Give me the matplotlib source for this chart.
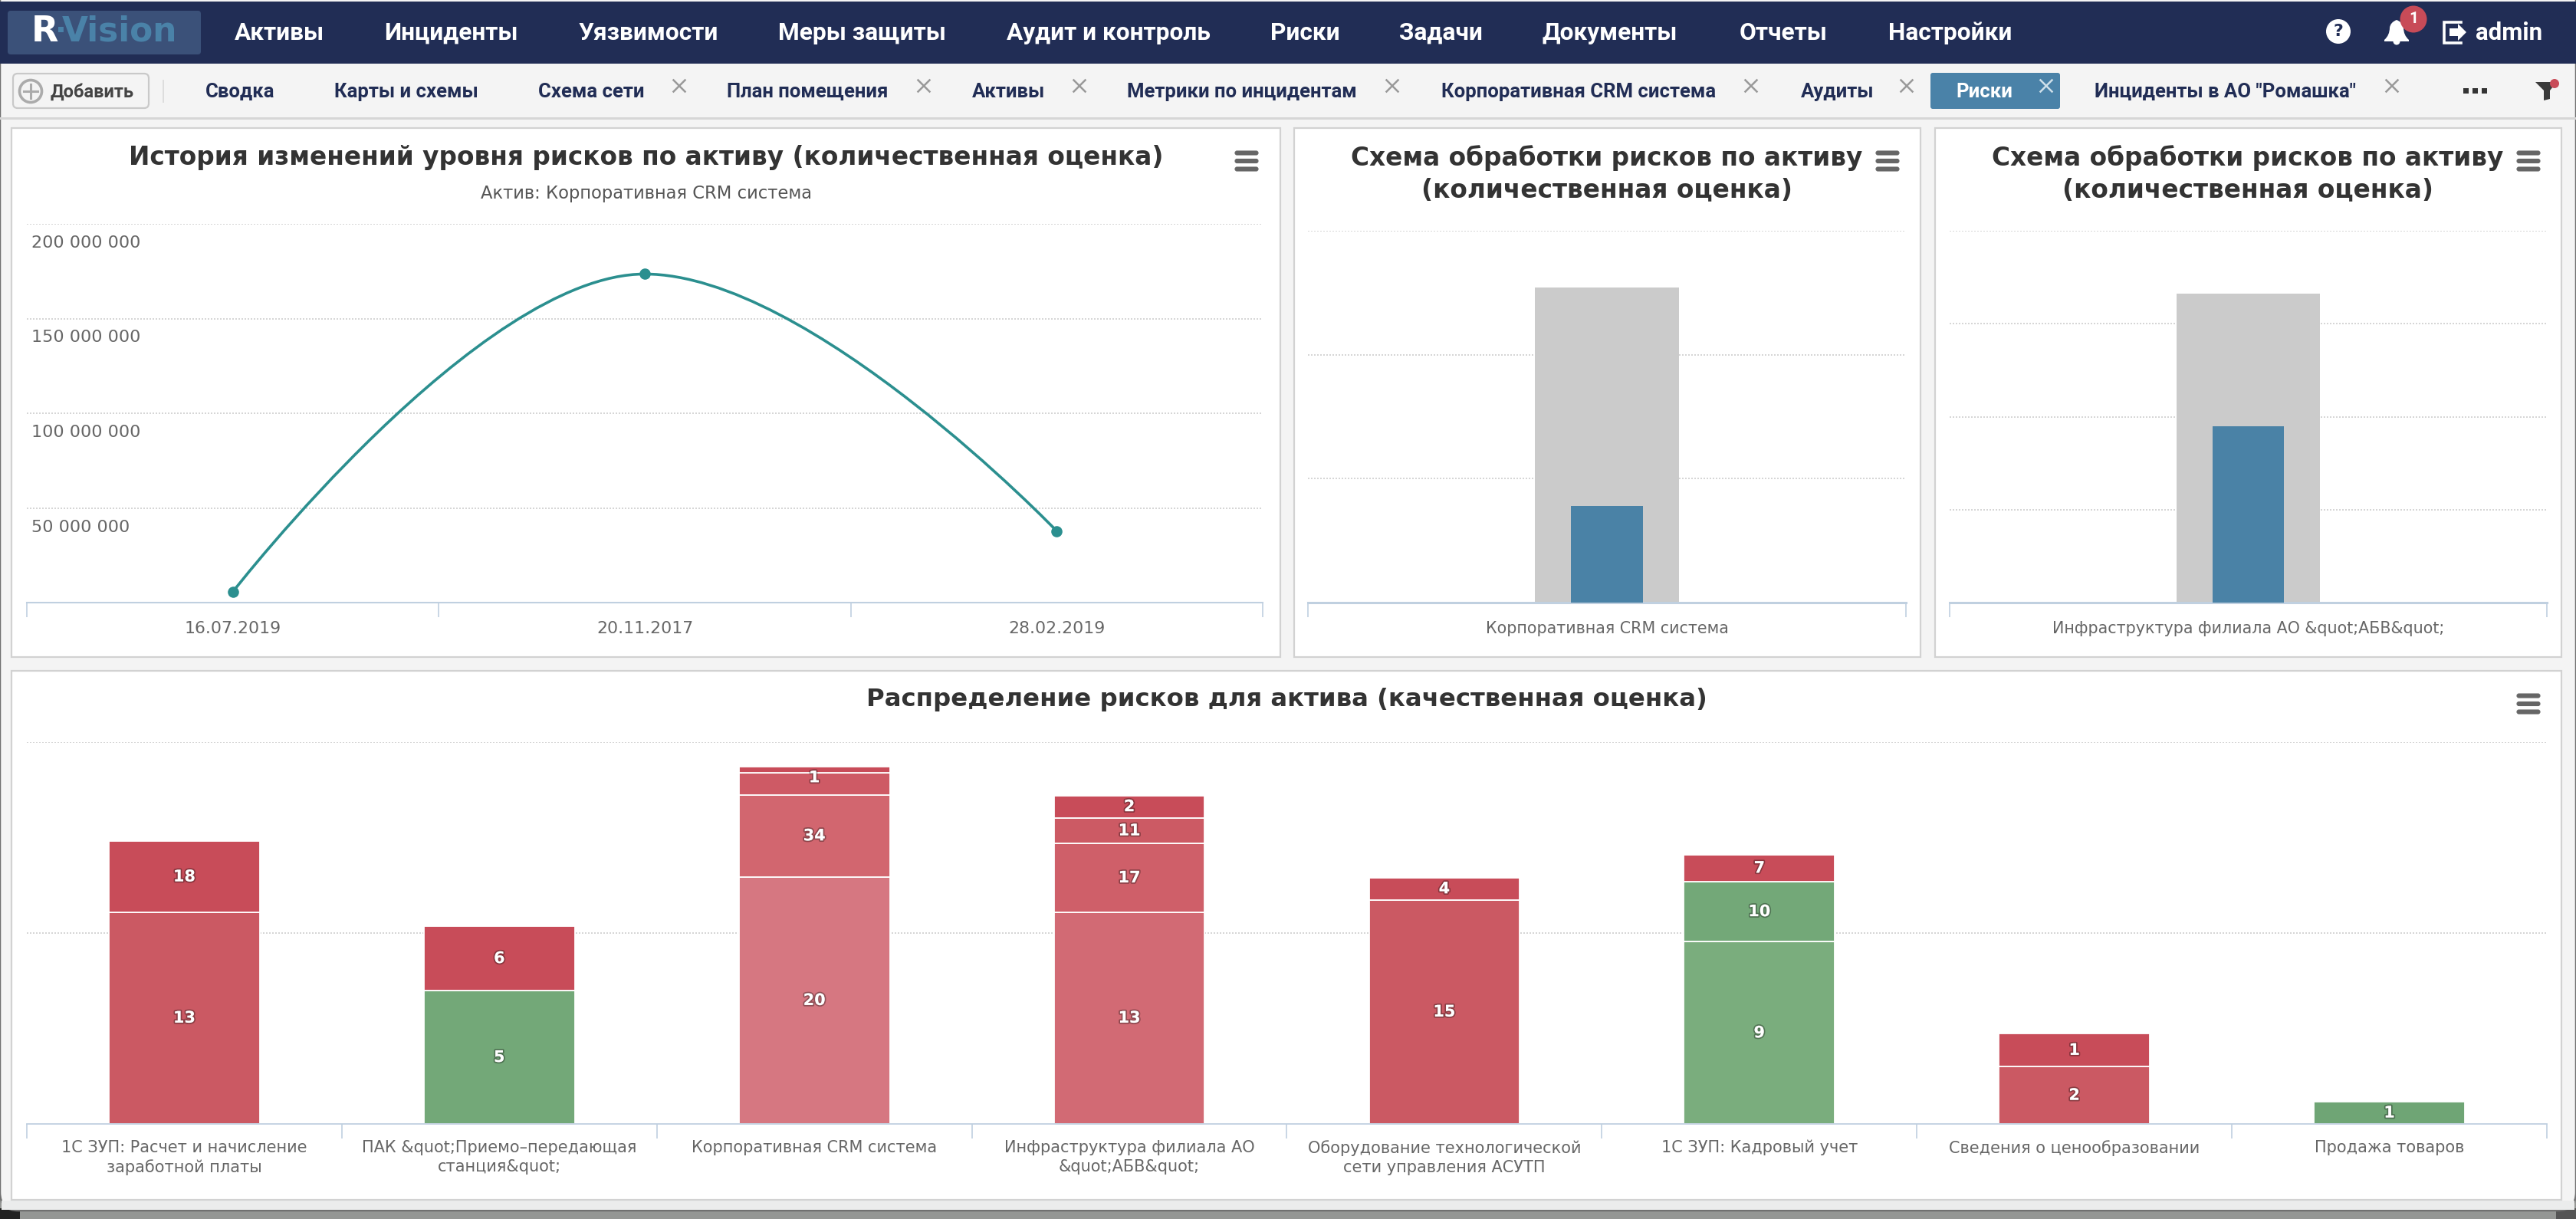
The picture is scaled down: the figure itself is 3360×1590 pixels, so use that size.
import matplotlib
matplotlib.use("Agg")
import matplotlib.pyplot as plt
import matplotlib.patheffects as pe
from matplotlib.patches import Rectangle, FancyBboxPatch, Circle, Polygon, PathPatch
from matplotlib.path import Path
from matplotlib.transforms import ScaledTranslation

W, H = 3360, 1590
plt.rcParams['font.family'] = ['DejaVu Sans']

# --- data ---
nav_items = ["Активы", "Инциденты", "Уязвимости", "Меры защиты", "Аудит и контроль",
             "Риски", "Задачи", "Документы", "Отчеты", "Настройки"]
tab_items = ["Сводка", "Карты и схемы", "Схема сети", "План помещения", "Активы",
             "Метрики по инцидентам", "Корпоративная CRM система", "Аудиты", "Риски",
             'Инциденты в АО "Ромашка"']

history_dates = ["16.07.2019", "20.11.2017", "28.02.2019"]
history_values = [5.7e6, 173.5e6, 37.8e6]
history_ticks = [50e6, 100e6, 150e6, 200e6]
history_ticklabels = ["50 000 000", "100 000 000", "150 000 000", "200 000 000"]

scheme1_name = ["Корпоративная CRM система"]
scheme1_total = [2.54]
scheme1_treated = [0.78]
scheme2_name = ['Инфраструктура филиала АО &quot;АБВ&quot;']
scheme2_total = [3.32]
scheme2_treated = [1.90]

assets = ["1С ЗУП: Расчет и начисление\nзаработной платы",
          "ПАК &quot;Приемо–передающая\nстанция&quot;",
          "Корпоративная CRM система",
          "Инфраструктура филиала АО\n&quot;АБВ&quot;",
          "Оборудование технологической\nсети управления АСУТП",
          "1С ЗУП: Кадровый учет",
          "Сведения о ценообразовании",
          "Продажа товаров"]
# segment heights bottom to top, the printed labels are not proportional to them
seg_heights = [[55.5, 18.5], [34.9, 16.9], [64.7, 21.5, 5.8, 1.5], [55.5, 17.9, 6.8, 5.8],
               [58.7, 5.8], [47.7, 15.8, 7.0], [15.0, 8.6], [5.8]]
seg_labels = [["13", "18"], ["5", "6"], ["20", "34", "1", None], ["13", "17", "11", "2"],
              ["15", "4"], ["9", "10", "7"], ["2", "1"], ["1"]]
seg_colors = [["#CB5963", "#C84C59"], ["#73A878", "#C84C59"],
              ["#D67781", "#D2666F", "#CE5A65", "#C84C59"],
              ["#D26A74", "#CF5F69", "#CC5A64", "#C84C59"],
              ["#CB5963", "#C84C59"], ["#7AAD7D", "#73A878", "#C84C59"],
              ["#CB5963", "#C84C59"], ["#6FA575"]]

NAVY = "#212D55"
AXIS = "#C0D0E0"
GRID = "#D6D6D6"
TITLE = "#333333"
LABEL = "#666666"
BLUE = "#4A82A8"
ROBOTO = ["Roboto", "DejaVu Sans"]


def px_axes(x0, x1, ytop, ybot):
    ax = fig.add_axes([x0 / W, 1 - ybot / H, (x1 - x0) / W, (ybot - ytop) / H])
    ax.patch.set_alpha(0)
    for s in ["top", "left", "right"]:
        ax.spines[s].set_visible(False)
    ax.spines["bottom"].set_color(AXIS)
    ax.set_axisbelow(True)
    ax.yaxis.grid(True, color=GRID, lw=1.44, ls=(0, (1, 1)))
    ax.tick_params(axis="y", length=0)
    ax.tick_params(axis="x", which="major", length=0, labelcolor=LABEL)
    ax.tick_params(axis="x", which="minor", length=13.7, width=1.2, color=AXIS)
    return ax


def T(x, y, s, size, color, weight="normal", ha="left", family=None):
    return bg.text(x, y, s, fontsize=size, color=color, fontweight=weight, ha=ha, va="center",
                   family=family or ['DejaVu Sans'])


def hamburger(x, y):
    for dy in (-10.5, 0, 10.5):
        bg.add_patch(FancyBboxPatch((x - 15, y + dy - 2.5), 30, 5, boxstyle="round,pad=0,rounding_size=2.5",
                                    fc="#666666", ec="#666666", lw=0.8))


def close_mark(x, y, c="#999999"):
    bg.plot([x - 7.5, x + 7.5], [y - 7.5, y + 7.5], color=c, lw=1.8)
    bg.plot([x - 7.5, x + 7.5], [y + 7.5, y - 7.5], color=c, lw=1.8)


fig = plt.figure(figsize=(W / 100, H / 100), dpi=100, facecolor="#949694")
bg = fig.add_axes([0, 0, 1, 1])
bg.set_xlim(0, W)
bg.set_ylim(H, 0)
bg.axis("off")

# window, header, toolbar
bg.add_patch(Rectangle((0, 1576), 26, 14, fc="#222222", ec="none"))
bg.add_patch(Rectangle((3334, 1576), 26, 14, fc="#555555", ec="none"))
bg.add_patch(Rectangle((26, 1578), 3308, 12, fc="#949694", ec="none"))
bg.add_patch(Rectangle((0, 0), W, 3, fc="#CFCFCF", ec="none"))
bg.add_patch(FancyBboxPatch((0, -30), W, 1609, boxstyle="round,pad=0,rounding_size=24",
                            fc="#F4F4F4", ec="#707070", lw=1.8))
bg.add_patch(Rectangle((2, 1566), W - 4, 12, fc="#EBECEC", ec="none"))
bg.add_patch(Rectangle((0, 2), W, 81, fc=NAVY, ec="none"))
bg.add_patch(Rectangle((0, 153), W, 2.5, fc="#D6D6D6", ec="none"))

bg.add_patch(FancyBboxPatch((10, 14), 252, 57, boxstyle="round,pad=0,rounding_size=4", fc="#3B5179", ec="none"))
T(41, 41, "R", 33, "white", "bold")
T(72, 41, "·", 28, BLUE, "bold")
T(81, 41, "Vision", 31.6, BLUE, "bold")

nav_x = [306, 501, 755, 1015, 1313, 1657, 1825, 2012, 2269, 2463]
for x, s in zip(nav_x, nav_items):
    T(x, 43, s, 22.8, "white", "bold", family=ROBOTO)

# help, bell, logout, user
bg.add_patch(Circle((3050, 41), 16, fc="white", ec="none"))
T(3050, 41, "?", 16, NAVY, "bold", ha="center")
bell = Path([(3110, 52), (3117, 46), (3117, 36), (3118, 29), (3126, 26), (3134, 29), (3135, 36), (3135, 46),
             (3142, 52), (3142, 54), (3110, 54), (3110, 52)],
            [Path.MOVETO, Path.CURVE3, Path.CURVE3, Path.CURVE3, Path.CURVE3, Path.CURVE3, Path.CURVE3,
             Path.CURVE3, Path.CURVE3, Path.LINETO, Path.LINETO, Path.CLOSEPOLY])
bg.add_patch(PathPatch(bell, fc="white", ec="none"))
bg.add_patch(Circle((3126, 54), 4.5, fc="white", ec="none"))
bg.add_patch(Circle((3148, 25), 17.5, fc="#C84B58", ec="none"))
T(3148, 25, "1", 15, "white", "bold", ha="center", family=ROBOTO)
bg.plot([3210, 3188, 3188, 3210], [29, 29, 56, 56], color="white", lw=2.6, solid_joinstyle="miter")
bg.add_patch(Polygon([(3195, 37), (3206, 37), (3206, 31), (3217, 42), (3206, 53), (3206, 47), (3195, 47)],
                     closed=True, fc="white", ec="none"))
T(3229, 43, "admin", 22.5, "white", "bold", family=ROBOTO)

# tab strip
bg.add_patch(FancyBboxPatch((17, 96), 177, 45, boxstyle="round,pad=0,rounding_size=6", fc="#F4F4F4", ec="#C9C9C9", lw=1.6))
bg.add_patch(Circle((40, 119), 14.5, fc="none", ec="#ABABAB", lw=2.6))
bg.plot([31, 49], [119, 119], color="#ABABAB", lw=2.2)
bg.plot([40, 40], [110, 128], color="#ABABAB", lw=2.2)
T(66, 120, "Добавить", 17, "#444444", "bold", family=ROBOTO)
bg.plot([213, 213], [105, 133], color="#DDDDDD", lw=1.4)
bg.add_patch(FancyBboxPatch((2518, 95), 169, 47, boxstyle="round,pad=0,rounding_size=3", fc=BLUE, ec="none"))
tab_x = [268, 436, 702, 948, 1268, 1470, 1880, 2349, 2551, 2732]
for x, s in zip(tab_x, tab_items):
    T(x, 120, s, 18.5, "white" if s == "Риски" else NAVY, "bold", family=ROBOTO)
for x in [886, 1205, 1408, 1816, 2284, 2487, 3120]:
    close_mark(x, 112)
close_mark(2669, 112, "#CFE0EA")
for x in (3216, 3228, 3240):
    bg.add_patch(Rectangle((x - 3.5, 115), 7, 7, fc="#333333", ec="none"))
bg.add_patch(Polygon([(3307, 107), (3335, 107), (3326, 118), (3326, 129), (3318, 131), (3318, 118)],
                     closed=True, fc="#3A3A3A", ec="none"))
bg.add_patch(Circle((3332, 109), 6, fc="#C84B58", ec="none"))

# panels
for x0, x1, y0, y1 in [(15, 1670, 167, 857), (1688, 2505, 167, 857), (2524, 3341, 167, 857), (15, 3341, 875, 1565)]:
    bg.add_patch(Rectangle((x0, y0), x1 - x0, y1 - y0, fc="white", ec="#D2D2D2", lw=1.6))

T(843, 206, "История изменений уровня рисков по активу (количественная оценка)", 23.6, TITLE, "bold", ha="center")
T(843, 252, "Актив: Корпоративная CRM система", 16.3, "#555555", ha="center")
T(2096, 206, "Схема обработки рисков по активу", 23.6, TITLE, "bold", ha="center")
T(2096, 248, "(количественная оценка)", 23.6, TITLE, "bold", ha="center")
T(2932, 206, "Схема обработки рисков по активу", 23.6, TITLE, "bold", ha="center")
T(2932, 248, "(количественная оценка)", 23.6, TITLE, "bold", ha="center")
T(1678, 913, "Распределение рисков для актива (качественная оценка)", 23.3, TITLE, "bold", ha="center")
for x, y in [(1626, 210), (2462, 210), (3298, 210), (3298, 918)]:
    hamburger(x, y)

# history line, same bezier construction as the original spline
ax = px_axes(35, 1647, 292, 786)
xs = list(range(len(history_values)))
ax.set_xlim(-0.5, 2.5)
ax.set_ylim(0, 200e6)
ax.set_yticks(history_ticks)
ax.set_yticklabels(history_ticklabels, ha="left", color=LABEL, fontsize=16)
ax.tick_params(axis="y", pad=-4)
shift = ScaledTranslation(0, -23 / 100, fig.dpi_scale_trans)
for lab in ax.get_yticklabels():
    lab.set_transform(lab.get_transform() + shift)
ax.set_xticks(xs)
ax.set_xticklabels(history_dates, fontsize=15.8)
ax.set_xticks([-0.5, 0.5, 1.5, 2.5], minor=True)
ax.tick_params(axis="x", which="major", pad=17)
ax.spines["bottom"].set_linewidth(1.5)

verts = [(xs[0], history_values[0])]
codes = [Path.MOVETO]
for i in range(1, len(xs)):
    prev_ctrl = (xs[i - 1] + (xs[i] - xs[i - 1]) * 0.4, history_values[i - 1]) if i > 1 else (xs[0], history_values[0])
    ctrl = (xs[i] - (xs[i] - xs[i - 1]) * 0.4, history_values[i]) if i < len(xs) - 1 else (xs[i], history_values[i])
    verts += [prev_ctrl, ctrl, (xs[i], history_values[i])]
    codes += [Path.CURVE4] * 3
ax.add_patch(PathPatch(Path(verts, codes), fc="none", ec="#2B8F8F", lw=2.6, clip_on=False))
ax.plot(xs, history_values, "o", color="#2B8F8F", ms=10.5, mew=0, clip_on=False, zorder=5)

# scheme panels
for rect, name, total, treated, top in [((1706, 2486), scheme1_name, scheme1_total, scheme1_treated, 3),
                                        ((2543, 3322), scheme2_name, scheme2_total, scheme2_treated, 4)]:
    ax = px_axes(rect[0], rect[1], 301, 786)
    ax.set_xlim(-0.5, 0.5)
    ax.set_ylim(0, top)
    ax.set_yticks(range(1, top + 1))
    ax.set_yticklabels([])
    ax.bar([0], total, width=0.24, color="#CBCBCB", zorder=2)
    ax.bar([0], treated, width=0.12, color="#4A82A6", zorder=3)
    ax.set_xticks([0])
    ax.set_xticklabels(name, fontsize=14.9)
    ax.set_xticks([-0.5, 0.5], minor=True)
    ax.tick_params(axis="x", which="major", pad=17)
    ax.spines["bottom"].set_linewidth(2.2)

# stacked assets
ax = px_axes(35, 3322, 968, 1466)
ax.set_xlim(-0.5, len(assets) - 0.5)
ax.set_ylim(0, 100)
ax.set_yticks([50, 100])
ax.set_yticklabels([])
for i, (hs, labs, cols) in enumerate(zip(seg_heights, seg_labels, seg_colors)):
    bottom = 0
    for j, (h, lab, c) in enumerate(zip(hs, labs, cols)):
        ax.bar(i, h, bottom=bottom, width=0.479, color=c, edgecolor="white", linewidth=1.3, zorder=2)
        if lab:
            # the "1" on the third bar sits above its segment centre in the reference
            nudge = 1.6 if (i, j) == (2, 2) else 0
            ax.text(i, bottom + h / 2 + nudge, lab, color="white", fontsize=15, fontweight="bold",
                    ha="center", va="center", zorder=4,
                    path_effects=[pe.withStroke(linewidth=2.6, foreground="#00000050")])
        bottom += h
ax.set_xticks(range(len(assets)))
ax.set_xticklabels(assets, fontsize=15.05, linespacing=1.33)
ax.set_xticks([k - 0.5 for k in range(len(assets) + 1)], minor=True)
ax.tick_params(axis="x", which="major", pad=15)
ax.spines["bottom"].set_linewidth(1.3)

fig.savefig("out.png", dpi=100, facecolor=fig.get_facecolor())
